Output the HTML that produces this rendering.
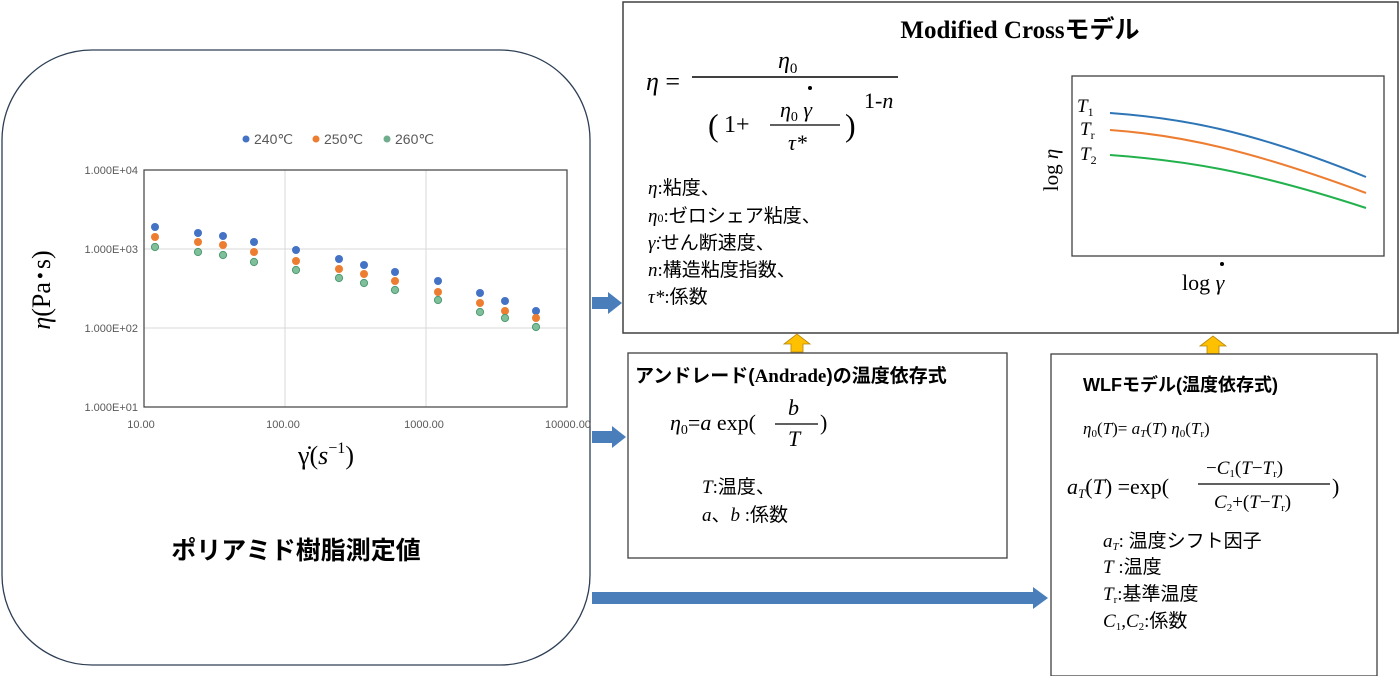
<!DOCTYPE html>
<html><head><meta charset="utf-8"><style>
body{margin:0;background:#fff;}
svg text{font-family:"Liberation Serif","Noto Serif CJK SC","Noto Sans CJK JP",serif;}
svg text.jp, svg tspan.jp{font-family:"Liberation Sans","Noto Sans CJK JP",sans-serif;}
svg text.ax, svg g.ax text{font-family:"Liberation Sans",sans-serif;font-size:11px;fill:#595959;}
</style></head><body>
<svg width="1400" height="676" viewBox="0 0 1400 676" xmlns="http://www.w3.org/2000/svg">
<rect x="0" y="0" width="1400" height="676" fill="#fff"/>
<rect x="2" y="50" width="588" height="615" rx="90" ry="90" fill="#fff" stroke="#2e3f55" stroke-width="1.3"/>
<circle cx="246" cy="139" r="3.5" fill="#4472c4"/><text x="254" y="144" class="ax" style="font-size:14px">240℃</text>
<circle cx="316" cy="139" r="3.5" fill="#ed7d31"/><text x="324" y="144" class="ax" style="font-size:14px">250℃</text>
<circle cx="387" cy="139" r="3.5" fill="#70ad8c"/><text x="395" y="144" class="ax" style="font-size:14px">260℃</text>
<g stroke="#d9d9d9" stroke-width="1"><line x1="144" y1="249" x2="567" y2="249"/><line x1="144" y1="328" x2="567" y2="328"/><line x1="285" y1="170" x2="285" y2="407"/><line x1="426" y1="170" x2="426" y2="407"/></g>
<rect x="144" y="170" width="423" height="237" fill="none" stroke="#404040" stroke-width="1.2"/>
<g class="ax" text-anchor="end"><text x="138" y="174">1.000E+04</text><text x="138" y="253">1.000E+03</text><text x="138" y="332">1.000E+02</text><text x="138" y="411">1.000E+01</text></g>
<g class="ax" text-anchor="middle"><text x="141" y="428">10.00</text><text x="283" y="428">100.00</text><text x="424" y="428">1000.00</text><text x="568" y="428">10000.00</text></g>
<g fill="#4472c4"><circle cx="155" cy="227" r="4"/><circle cx="198" cy="233" r="4"/><circle cx="223" cy="236" r="4"/><circle cx="254" cy="242" r="4"/><circle cx="296" cy="250" r="4"/><circle cx="339" cy="259" r="4"/><circle cx="364" cy="265" r="4"/><circle cx="395" cy="272" r="4"/><circle cx="438" cy="281" r="4"/><circle cx="480" cy="293" r="4"/><circle cx="505" cy="301" r="4"/><circle cx="536" cy="311" r="4"/></g>
<g fill="#ed7d31"><circle cx="155" cy="237" r="4"/><circle cx="198" cy="242" r="4"/><circle cx="223" cy="245" r="4"/><circle cx="254" cy="252" r="4"/><circle cx="296" cy="261" r="4"/><circle cx="339" cy="269" r="4"/><circle cx="364" cy="274" r="4"/><circle cx="395" cy="281" r="4"/><circle cx="438" cy="292" r="4"/><circle cx="480" cy="303" r="4"/><circle cx="505" cy="311" r="4"/><circle cx="536" cy="318" r="4"/></g>
<g fill="#7fbf9a" stroke="#4e9a74" stroke-width="1"><circle cx="155" cy="247" r="3.6"/><circle cx="198" cy="252" r="3.6"/><circle cx="223" cy="255" r="3.6"/><circle cx="254" cy="262" r="3.6"/><circle cx="296" cy="270" r="3.6"/><circle cx="339" cy="278" r="3.6"/><circle cx="364" cy="283" r="3.6"/><circle cx="395" cy="290" r="3.6"/><circle cx="438" cy="300" r="3.6"/><circle cx="480" cy="312" r="3.6"/><circle cx="505" cy="318" r="3.6"/><circle cx="536" cy="327" r="3.6"/></g>
<text transform="translate(50,290) rotate(-90)" text-anchor="middle" font-size="26"><tspan font-style="italic">η</tspan>(Pa･s)</text>
<text x="326" y="464" text-anchor="middle" font-size="26">γ̇(<tspan font-style="italic">s</tspan><tspan font-size="16" dy="-11">−1</tspan><tspan dy="11">)</tspan></text>
<text x="296" y="559" text-anchor="middle" class="jp" font-size="25" font-weight="bold">ポリアミド樹脂測定値</text>

<g fill="#4a7ebb"><rect x="592" y="297" width="16" height="12"/><polygon points="608,292 622,303 608,314"/>
<rect x="592" y="431" width="20" height="12"/><polygon points="612,426 626,437 612,448"/>
<rect x="592" y="592" width="442" height="12"/><polygon points="1033,587 1048,598 1033,609"/></g>

<rect x="623" y="2" width="775" height="331" fill="#fff" stroke="#404040" stroke-width="1.5"/>
<text x="1020" y="38" text-anchor="middle" font-size="25" font-weight="bold">Modified Cross<tspan class="jp">モデル</tspan></text>
<text x="646" y="90" font-size="26" font-style="italic">η <tspan font-style="normal">=</tspan></text>
<line x1="692" y1="77" x2="898" y2="77" stroke="#000" stroke-width="1.5"/>
<text x="778" y="68" font-size="24" font-style="italic">η<tspan font-size="15" font-style="normal" dy="5">0</tspan></text>
<text x="708" y="136" font-size="32">(</text><text x="724" y="132" font-size="24">1+</text>
<text x="780" y="117" font-size="22" font-style="italic">η<tspan font-size="14" font-style="normal" dy="4">0</tspan><tspan dy="-4"> γ</tspan></text>
<circle cx="810" cy="88" r="2" fill="#000"/>
<line x1="770" y1="125" x2="840" y2="125" stroke="#000" stroke-width="1.3"/>
<text x="788" y="150" font-size="22" font-style="italic">τ*</text>
<text x="845" y="136" font-size="32">)</text>
<text x="864" y="108" font-size="22">1-<tspan font-style="italic">n</tspan></text>
<g font-size="19"><text x="648" y="194"><tspan font-style="italic">η</tspan>:<tspan class="jp">粘度、</tspan></text>
<text x="648" y="222"><tspan font-style="italic">η</tspan><tspan font-size="12">0</tspan>:<tspan class="jp">ゼロシェア粘度、</tspan></text>
<text x="648" y="249"><tspan font-style="italic">γ̇</tspan>:<tspan class="jp">せん断速度、</tspan></text>
<text x="648" y="276"><tspan font-style="italic">n</tspan>:<tspan class="jp">構造粘度指数、</tspan></text>
<text x="648" y="303"><tspan font-style="italic">τ*</tspan>:<tspan class="jp">係数</tspan></text></g>
<rect x="1072" y="76" width="312" height="180" fill="#fff" stroke="#404040" stroke-width="1.3"/>
<path d="M1110 113 C1180 118,1250 130,1366 177" fill="none" stroke="#2e75b6" stroke-width="2"/>
<path d="M1110 130 C1180 135,1250 150,1366 193" fill="none" stroke="#ed7d31" stroke-width="2"/>
<path d="M1110 155 C1180 160,1250 170,1366 208" fill="none" stroke="#22b14c" stroke-width="2"/>
<g font-size="19" font-style="italic"><text x="1077" y="112">T<tspan font-size="12" font-style="normal" dy="4">1</tspan></text>
<text x="1080" y="135">T<tspan font-size="12" font-style="normal" dy="4">r</tspan></text>
<text x="1080" y="160">T<tspan font-size="12" font-style="normal" dy="4">2</tspan></text></g>
<text transform="translate(1058,170) rotate(-90)" text-anchor="middle" font-size="21">log <tspan font-style="italic">η</tspan></text>
<text x="1182" y="290" font-size="22">log <tspan font-style="italic">γ</tspan></text>
<circle cx="1222" cy="264" r="2" fill="#000"/>

<g fill="#ffc000" stroke="#b8860b" stroke-width="0.8"><polygon points="791,352 791,344 784,344 797,334 810,344 803,344 803,352"/><polygon points="1207,354 1207,346 1200,346 1213,336 1226,346 1219,346 1219,354"/></g>

<rect x="628" y="353" width="379" height="205" fill="#fff" stroke="#404040" stroke-width="1.3"/>
<text x="635" y="382" font-size="19" font-weight="bold" class="jp">アンドレード(<tspan style="font-family:'Liberation Serif',serif">Andrade</tspan>)の温度依存式</text>
<text x="670" y="430" font-size="22"><tspan font-style="italic">η</tspan><tspan font-size="14" dy="4">0</tspan><tspan dy="-4">=</tspan><tspan font-style="italic">a</tspan> exp(</text>
<line x1="775" y1="424" x2="818" y2="424" stroke="#000" stroke-width="1.2"/>
<text x="788" y="415" font-size="22" font-style="italic">b</text>
<text x="788" y="446" font-size="22" font-style="italic">T</text>
<text x="820" y="430" font-size="22">)</text>
<g font-size="19"><text x="702" y="493"><tspan font-style="italic">T</tspan>:<tspan class="jp">温度、</tspan></text>
<text x="702" y="521"><tspan font-style="italic">a</tspan><tspan class="jp">、</tspan><tspan font-style="italic">b</tspan> :<tspan class="jp">係数</tspan></text></g>

<rect x="1051" y="354" width="326" height="322" fill="#fff" stroke="#404040" stroke-width="1.3"/>
<text x="1083" y="391" font-size="18" font-weight="bold" class="jp">WLFモデル(温度依存式)</text>
<text x="1083" y="434" font-size="17"><tspan font-style="italic">η</tspan><tspan font-size="11" dy="3">0</tspan><tspan dy="-3">(</tspan><tspan font-style="italic">T</tspan>)= <tspan font-style="italic">a</tspan><tspan font-size="11" font-style="italic" dy="3">T</tspan><tspan dy="-3">(</tspan><tspan font-style="italic">T</tspan>) <tspan font-style="italic">η</tspan><tspan font-size="11" dy="3">0</tspan><tspan dy="-3">(</tspan><tspan font-style="italic">T</tspan><tspan font-size="11" dy="3">r</tspan><tspan dy="-3">)</tspan></text>
<text x="1067" y="494" font-size="22"><tspan font-style="italic">a</tspan><tspan font-size="13" font-style="italic" dy="4">T</tspan><tspan dy="-4">(</tspan><tspan font-style="italic">T</tspan>) =exp(</text>
<line x1="1198" y1="484" x2="1330" y2="484" stroke="#000" stroke-width="1.2"/>
<text x="1206" y="474" font-size="19">−<tspan font-style="italic">C</tspan><tspan font-size="11" dy="3">1</tspan><tspan dy="-3">(</tspan><tspan font-style="italic">T</tspan>−<tspan font-style="italic">T</tspan><tspan font-size="11" dy="3">r</tspan><tspan dy="-3">)</tspan></text>
<text x="1214" y="508" font-size="19"><tspan font-style="italic">C</tspan><tspan font-size="11" dy="3">2</tspan><tspan dy="-3">+(</tspan><tspan font-style="italic">T</tspan>−<tspan font-style="italic">T</tspan><tspan font-size="11" dy="3">r</tspan><tspan dy="-3">)</tspan></text>
<text x="1332" y="494" font-size="22">)</text>
<g font-size="19"><text x="1103" y="547"><tspan font-style="italic">a</tspan><tspan font-size="11" font-style="italic" dy="3">T</tspan><tspan dy="-3">: </tspan><tspan class="jp">温度シフト因子</tspan></text>
<text x="1103" y="573"><tspan font-style="italic">T</tspan> :<tspan class="jp">温度</tspan></text>
<text x="1103" y="600"><tspan font-style="italic">T</tspan><tspan font-size="11" dy="3">r</tspan><tspan dy="-3">:</tspan><tspan class="jp">基準温度</tspan></text>
<text x="1103" y="627"><tspan font-style="italic">C</tspan><tspan font-size="11" dy="3">1</tspan><tspan dy="-3">,</tspan><tspan font-style="italic">C</tspan><tspan font-size="11" dy="3">2</tspan><tspan dy="-3">:</tspan><tspan class="jp">係数</tspan></text></g>
</svg>
</body></html>
